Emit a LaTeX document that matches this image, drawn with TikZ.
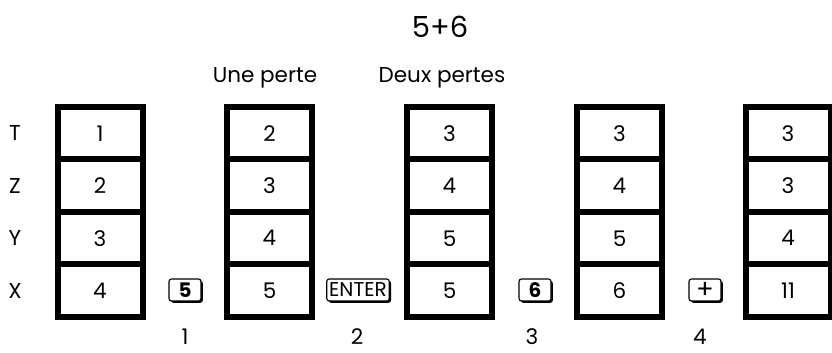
\documentclass[tikz,border=0pt]{standalone}
\usepackage{fontspec}
\setmainfont{Poppins}
\usetikzlibrary{shadows}
\begin{document}
\begin{tikzpicture}[x=1pt,y=1pt,
  txt/.style={font=\fontsize{21.5}{24}\selectfont, inner sep=0pt},
  cell/.style={draw, line width=6pt, minimum width=85pt, minimum height=52.5pt, inner sep=0pt, font=\fontsize{21.5}{24}\selectfont},
  calckey/.style={draw, fill=white, line width=1.1pt, rounded corners=2.5pt, minimum height=22pt, minimum width=32pt, inner xsep=2.5pt, inner ysep=1pt, font=\fontsize{20}{22}\selectfont,
    drop shadow={shadow xshift=1.8pt, shadow yshift=-1.8pt, fill=black, opacity=1}}
]
\useasboundingbox (0,0) rectangle (832,353);
% title
\node[txt, font=\fontsize{29}{32}\selectfont] (title) at (440,326) {5+6};
\node[txt] (une) at (265,275) {Une perte};
\node[txt] (deux) at (442,275) {Deux pertes};
% row labels
\node[txt] (lT) at (15,219.75) {T};
\node[txt] (lZ) at (15,167.25) {Z};
\node[txt] (lY) at (15,114.75) {Y};
\node[txt] (lX) at (15,62.25) {X};
% stacks
\foreach \c/\x/\t/\z/\y/\xx in {1/100/1/2/3/4, 2/269.5/2/3/4/5, 3/449.5/3/4/5/5, 4/619.5/3/4/5/6, 5/788/3/3/4/11}{
  \node[cell] (t\c) at (\x,219.75) {\t};
  \node[cell] (z\c) at (\x,167.25) {\z};
  \node[cell] (y\c) at (\x,114.75) {\y};
  \node[cell] (x\c) at (\x,62.25) {\xx};
}
% keys
\node[calckey, font=\fontsize{20}{22}\selectfont\bfseries] (k1) at (185,63) {5};
\node[calckey] (k2) at (358,63) {ENTER};
\node[calckey, font=\fontsize{20}{22}\selectfont\bfseries] (k3) at (535,63) {6};
\node[calckey, font=\fontsize{26}{26}\selectfont] (k4) at (705,63) {+};
% step numbers
\node[txt] (n1) at (185,16) {1};
\node[txt] (n2) at (357,16) {2};
\node[txt] (n3) at (532,16) {3};
\node[txt] (n4) at (700,16) {4};
\end{tikzpicture}
\end{document}
